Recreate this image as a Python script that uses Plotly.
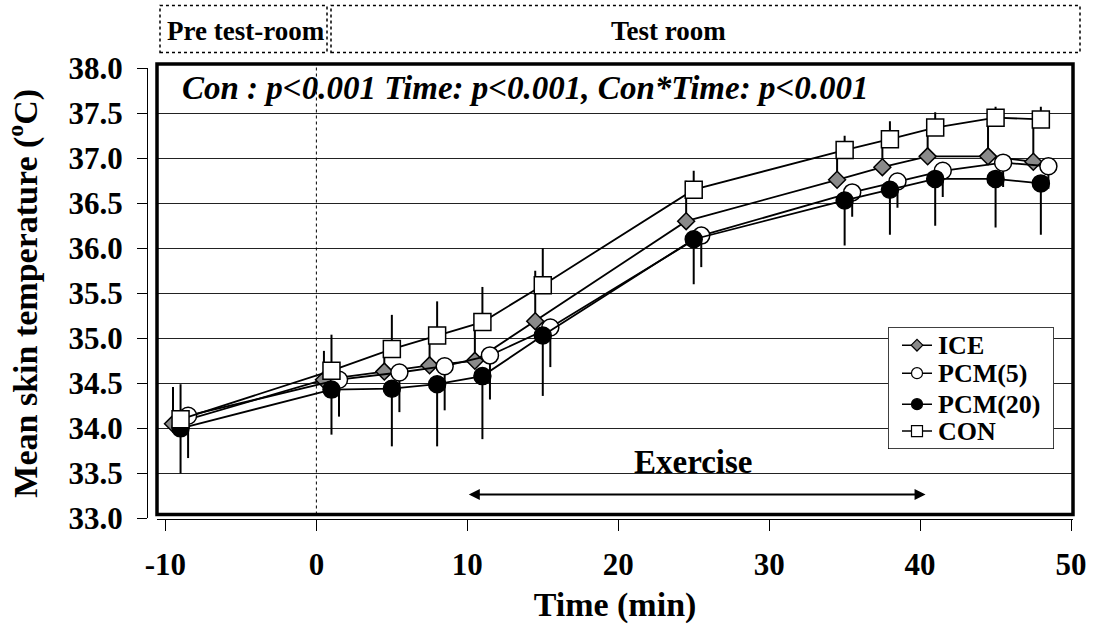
import plotly.graph_objects as go

# Sampling times (min) and per-group horizontal offsets used to separate markers
time_min = [-9, 1, 5, 8, 11, 15, 25, 35, 38, 41, 45, 48]
x_shift = {"ICE": -0.5, "PCM(5)": 0.5, "PCM(20)": 0.0, "CON": 0.0}

# Mean skin temperature (degC)
ice = [34.05, 34.54, 34.63, 34.70, 34.75, 35.19, 36.30, 36.76, 36.90, 37.02, 37.02, 36.96]
pcm5 = [34.14, 34.54, 34.62, 34.69, 34.81, 35.12, 36.14, 36.62, 36.74, 36.86, 36.95, 36.91]
pcm20 = [34.00, 34.43, 34.44, 34.49, 34.58, 35.03, 36.10, 36.53, 36.65, 36.77, 36.77, 36.72]
con = [34.10, 34.64, 34.88, 35.03, 35.18, 35.59, 36.65, 37.09, 37.21, 37.34, 37.45, 37.43]

# One-sided SD bars
ice_sd_up = [0.41, 0.32, 0.30, 0.35, 0.40, 0.56, 0.45, 0.40, 0.40, 0.40, 0.50, 0.50]
pcm5_sd_down = [0.47, 0.41, 0.44, 0.49, 0.49, 0.44, 0.35, 0.27, 0.29, 0.29, 0.27, 0.25]
pcm20_sd_down = [0.50, 0.50, 0.64, 0.69, 0.70, 0.67, 0.50, 0.50, 0.50, 0.52, 0.54, 0.57]
con_sd_up = [0.39, 0.40, 0.38, 0.38, 0.39, 0.41, 0.21, 0.16, 0.20, 0.17, 0.12, 0.14]

x_ticks = [-10, 0, 10, 20, 30, 40, 50]
x_tick_text = ["-10", "0", "10", "20", "30", "40", "50"]
y_ticks = [33.0, 33.5, 34.0, 34.5, 35.0, 35.5, 36.0, 36.5, 37.0, 37.5, 38.0]
grid_vals = [33.5, 34.0, 34.5, 35.0, 35.5, 36.0, 36.5, 37.0, 37.5]

FONT = "Liberation Serif"
W, H = 1097, 629
L, R, T, B = 147, 24, 63.5, 110
PW, PH = W - L - R, H - T - B


def px(x):
    return (x - L) / PW


def py(y):
    return (H - B - y) / PH


def errs(vals, up):
    zeros = [0] * len(vals)
    return dict(type="data", symmetric=False,
                array=vals if up else zeros,
                arrayminus=zeros if up else vals,
                color="black", thickness=2, width=0)


series = [
    ("ICE", ice, dict(symbol="diamond", size=13, color="#8a8a8a"), errs(ice_sd_up, True)),
    ("PCM(5)", pcm5, dict(symbol="circle", size=17, color="white"), errs(pcm5_sd_down, False)),
    ("PCM(20)", pcm20, dict(symbol="circle", size=17, color="black"), errs(pcm20_sd_down, False)),
    ("CON", con, dict(symbol="square", size=17, color="white"), errs(con_sd_up, True)),
]
legend_marks = {"ICE": ("diamond", 9, "#8a8a8a"), "PCM(5)": ("circle", 11, "white"),
                "PCM(20)": ("circle", 11, "black"), "CON": ("square", 11, "white")}

fig = go.Figure()
for name, vals, mk, ey in series:
    fig.add_trace(go.Scatter(
        x=[t + x_shift[name] for t in time_min], y=vals, name=name,
        mode="lines+markers", showlegend=False,
        line=dict(color="black", width=1.8),
        marker=dict(line=dict(color="black", width=1.5), **mk),
        error_y=ey, cliponaxis=False,
    ))

# overlay axis carrying only the interior horizontal gridlines
fig.add_trace(go.Scatter(x=[None], y=[None], yaxis="y2", showlegend=False, hoverinfo="skip"))

# legend panel, drawn on its own small subplot (pixel-like units)
LX0, LX1, LY0, LY1 = 888, 1054, 327, 449
fig.add_trace(go.Scatter(x=[LX0, LX1, LX1, LX0, LX0], y=[LY0, LY0, LY1, LY1, LY0],
                         xaxis="x3", yaxis="y3", mode="lines", fill="toself",
                         fillcolor="white", line=dict(color="black", width=1.5),
                         showlegend=False, hoverinfo="skip", cliponaxis=False))
legend_rows = [("ICE", 345), ("PCM(5)", 373), ("PCM(20)", 404), ("CON", 431)]
for name, yc in legend_rows:
    sym, sz, col = legend_marks[name]
    fig.add_trace(go.Scatter(x=[902, 932], y=[yc, yc], xaxis="x3", yaxis="y3", mode="lines",
                             line=dict(color="black", width=1.5), showlegend=False,
                             hoverinfo="skip", cliponaxis=False))
    fig.add_trace(go.Scatter(x=[917], y=[yc], xaxis="x3", yaxis="y3", mode="markers",
                             marker=dict(symbol=sym, size=sz, color=col,
                                         line=dict(color="black", width=1.2)),
                             showlegend=False, hoverinfo="skip", cliponaxis=False))

fig.update_layout(
    width=W, height=H, template="none",
    margin=dict(l=L, r=R, t=T, b=B, pad=0),
    paper_bgcolor="white", plot_bgcolor="white",
    font=dict(family=FONT, size=26, color="black", weight="bold"),
    showlegend=False,
    xaxis=dict(domain=[px(157), 1], range=[-10.56, 50.13], anchor="free", position=0,
               tickvals=x_ticks, ticktext=x_tick_text, ticks="outside", ticklen=11,
               tickwidth=1, tickcolor="black",
               showline=True, linecolor="black", linewidth=1, showgrid=False, zeroline=False,
               tickfont=dict(family=FONT, size=31, weight="bold"), ticklabelstandoff=7,
               title=dict(text="Time (min)", font=dict(family=FONT, size=34, weight="bold"), standoff=10),
               automargin=False),
    yaxis=dict(domain=[py(518.4), py(67.6)], range=[33, 38], anchor="free", position=0,
               tickvals=y_ticks, tickformat=".1f", ticks="outside", ticklen=10, tickwidth=1,
               tickcolor="black", showline=True, linecolor="black", linewidth=1,
               showgrid=False, zeroline=False,
               tickfont=dict(family=FONT, size=31, weight="bold"), ticklabelstandoff=8,
               title=dict(text="Mean skin temperature (<sup>o</sup>C)",
                          font=dict(family=FONT, size=34, weight="bold"), standoff=19),
               automargin=False),
    yaxis2=dict(overlaying="y", anchor="x", range=[33, 38], tickvals=grid_vals, showgrid=True,
                gridcolor="#222222", gridwidth=1, showticklabels=False, ticks="",
                showline=False, zeroline=False, automargin=False),
    xaxis3=dict(domain=[px(LX0), px(LX1)], range=[LX0, LX1], anchor="y3", visible=False),
    yaxis3=dict(domain=[py(LY1), py(LY0)], range=[LY1, LY0], anchor="x3", visible=False),
)

shapes = [
    # plot frame
    dict(type="rect", xref="paper", yref="paper", x0=px(157), x1=px(1073),
         y0=py(514.5), y1=py(63.5), line=dict(color="black", width=3.5), layer="above"),
    # entry into test room
    dict(type="line", xref="x", yref="paper", x0=0, x1=0, y0=py(514.5), y1=py(63.5),
         line=dict(color="black", width=1, dash="dot")),
    # phase header boxes
    dict(type="rect", xref="paper", yref="paper", x0=px(160), x1=px(327), y0=py(52), y1=py(5),
         line=dict(color="black", width=1.5, dash="dot")),
    dict(type="rect", xref="paper", yref="paper", x0=px(331), x1=px(1080), y0=py(52), y1=py(5),
         line=dict(color="black", width=1.5, dash="dot")),
]
fig.update_layout(shapes=shapes)

annotations = [
    dict(text="Pre test-room", xref="paper", yref="paper", x=px(246), y=py(30),
         xanchor="center", yanchor="middle", showarrow=False,
         font=dict(family=FONT, size=27, weight="bold")),
    dict(text="Test room", xref="paper", yref="paper", x=px(668), y=py(30),
         xanchor="center", yanchor="middle", showarrow=False,
         font=dict(family=FONT, size=27, weight="bold")),
    dict(text="Con : p<0.001 Time: p<0.001, Con*Time: p<0.001", xref="paper", yref="paper",
         x=px(180), y=py(88), xanchor="left", yanchor="middle", showarrow=False,
         font=dict(family=FONT, size=33, weight="bold", style="italic")),
    dict(text="Exercise", xref="x", yref="y", x=25, y=33.626, xanchor="center",
         yanchor="middle", showarrow=False, font=dict(family=FONT, size=33, weight="bold")),
    dict(text="", xref="x", yref="y", x=40.36, y=33.266, ax=10.0, ay=33.266,
         axref="x", ayref="y", showarrow=True, arrowside="end+start",
         arrowhead=2, startarrowhead=2, arrowsize=1.1, startarrowsize=1.1,
         arrowwidth=2, arrowcolor="black"),
]
for name, yc in legend_rows:
    annotations.append(dict(text=name, xref="x3", yref="y3", x=936, y=yc, xanchor="left",
                            yanchor="middle", showarrow=False,
                            font=dict(family=FONT, size=26, weight="bold")))
fig.update_layout(annotations=annotations)

fig.write_html("out.html")
